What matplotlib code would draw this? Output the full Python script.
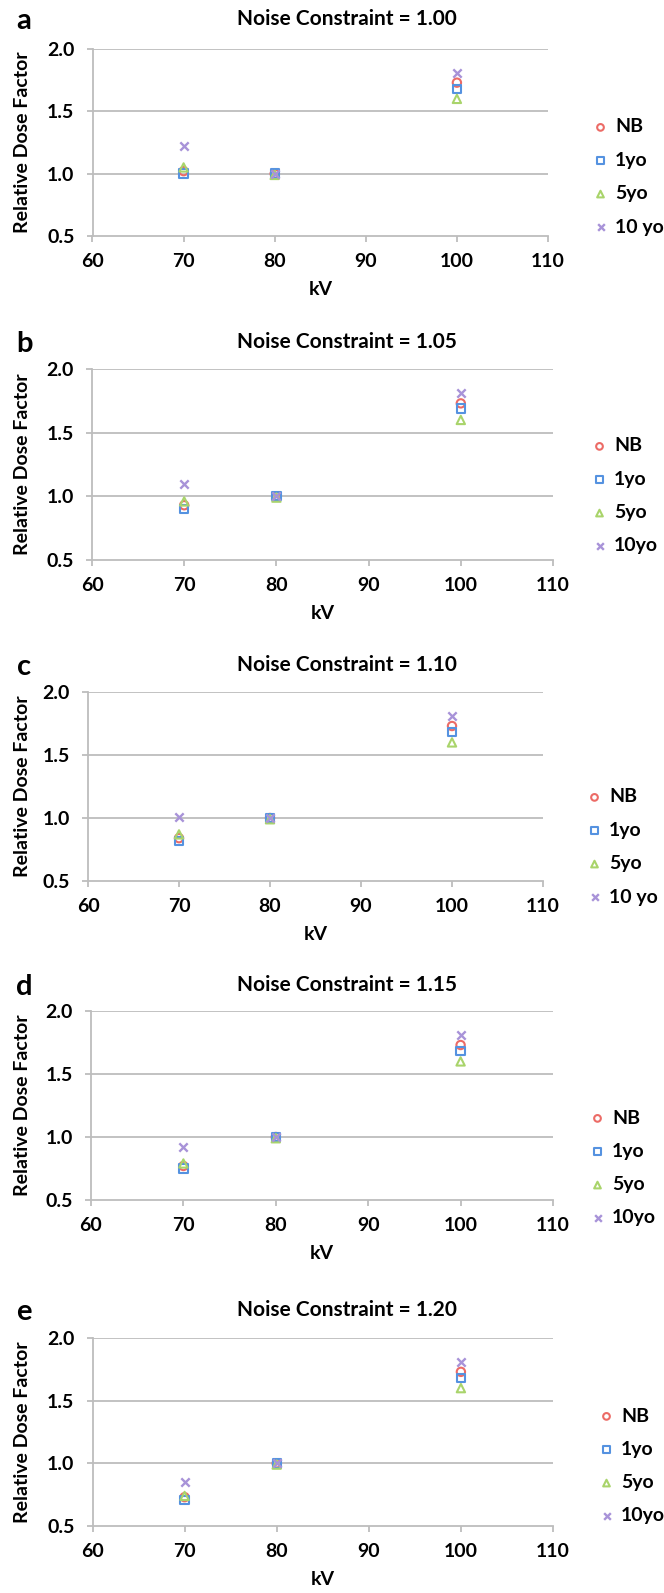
import matplotlib
matplotlib.use("Agg")
from matplotlib import pyplot as plt

plt.rcParams['font.family'] = ['Lato', 'DejaVu Sans']
plt.rcParams['font.weight'] = 'bold'

# dados
kv = [70, 80, 100]
letras = ["a", "b", "c", "d", "e"]
restricoes = ["1.00", "1.05", "1.10", "1.15", "1.20"]
nb = [[1.02, 1.00, 1.73], [0.93, 1.00, 1.73], [0.84, 1.00, 1.73], [0.77, 1.00, 1.73], [0.73, 1.00, 1.73]]
um_ano = [[1.00, 1.00, 1.68], [0.90, 1.00, 1.69], [0.82, 1.00, 1.68], [0.75, 1.00, 1.68], [0.71, 1.00, 1.68]]
cinco_anos = [[1.05, 0.99, 1.60], [0.96, 0.99, 1.60], [0.87, 0.99, 1.60], [0.79, 0.99, 1.60], [0.74, 0.99, 1.60]]
dez_anos = [[1.22, 1.00, 1.81], [1.10, 1.00, 1.81], [1.01, 1.00, 1.81], [0.92, 1.00, 1.81], [0.85, 1.00, 1.81]]
legendas = [["NB", "1yo", "5yo", "10 yo"], ["NB", "1yo", "5yo", "10yo"], ["NB", "1yo", "5yo", "10 yo"],
            ["NB", "1yo", "5yo", "10yo"], ["NB", "1yo", "5yo", "10yo"]]
xticks = [60, 70, 80, 90, 100, 110]
yticks = [0.5, 1.0, 1.5, 2.0]

# layout em pixels (largura 664, altura 1593)
W, H = 664, 1593
topo = [49, 369, 692, 1011, 1338]
base = [236, 560, 881, 1200, 1526]
esq = [92.5, 92, 88, 91, 92.5]
dir_ = [548, 553, 543, 553, 553]
tit_y = [19, 342, 665, 985, 1310]
leg_y = [177, 496, 847, 1168, 1466]
leg_x = [583, 582, 577, 580, 589]

cinza = "#bdbdbd"
cores = ["#ec6b66", "#5592e0", "#a9d46b", "#a893d8"]
marcadores = ["o", "s", "^", "x"]
fs = 14

fig = plt.figure(figsize=(W / 100, H / 100), dpi=100)

for i in range(5):
    ax = fig.add_axes([esq[i] / W, 1 - base[i] / H, (dir_[i] - esq[i]) / W, (base[i] - topo[i]) / H])
    series = [nb[i], um_ano[i], cinco_anos[i], dez_anos[i]]
    for s, cor, m, lab in zip(series, cores, marcadores, legendas[i]):
        if m == "x":
            ax.scatter(kv, s, marker=m, s=36, color=cor, linewidths=1.7, label=lab, zorder=3)
        else:
            ax.scatter(kv, s, marker=m, s=36, facecolors="none", edgecolors=cor, linewidths=1.5, label=lab, zorder=3)

    ax.set_xlim(60, 110)
    ax.set_ylim(0.5, 2.0)
    ax.set_xticks(xticks)
    ax.set_yticks(yticks)
    ax.set_yticklabels(["%.1f" % v for v in yticks])
    for v in yticks[1:]:
        ax.axhline(v, color=cinza, lw=1.3, zorder=1)
    for lado in ["top", "right"]:
        ax.spines[lado].set_visible(False)
    for lado in ["left", "bottom"]:
        ax.spines[lado].set_color(cinza)
        ax.spines[lado].set_linewidth(1.3)
    ax.tick_params(axis="both", colors=cinza, labelcolor="black", length=4, width=1.3, labelsize=fs)
    ax.tick_params(axis="y", pad=9)
    ax.tick_params(axis="x", pad=8)
    ax.set_xlabel("kV", fontsize=fs, fontweight="bold", labelpad=8)
    ax.set_ylabel("Relative Dose Factor", fontsize=14, fontweight="bold")
    ax.yaxis.set_label_coords((31 - esq[i]) / (dir_[i] - esq[i]), 0.5)

    fig.text(347 / W, 1 - tit_y[i] / H, "Noise Constraint = " + restricoes[i], ha="center", va="center",
             fontsize=15, fontweight="bold")
    fig.text(24 / W, 1 - (tit_y[i] + 2) / H, letras[i], ha="center", va="center", fontsize=21, fontweight="bold")

    ax.legend(loc="center left", bbox_to_anchor=(leg_x[i] / W, 1 - leg_y[i] / H), bbox_transform=fig.transFigure,
              frameon=False, fontsize=fs, borderpad=0, handlelength=0.8, handletextpad=0.35,
              labelspacing=0.84, scatterpoints=1, markerscale=0.8)

fig.savefig("out.png", dpi=100)
